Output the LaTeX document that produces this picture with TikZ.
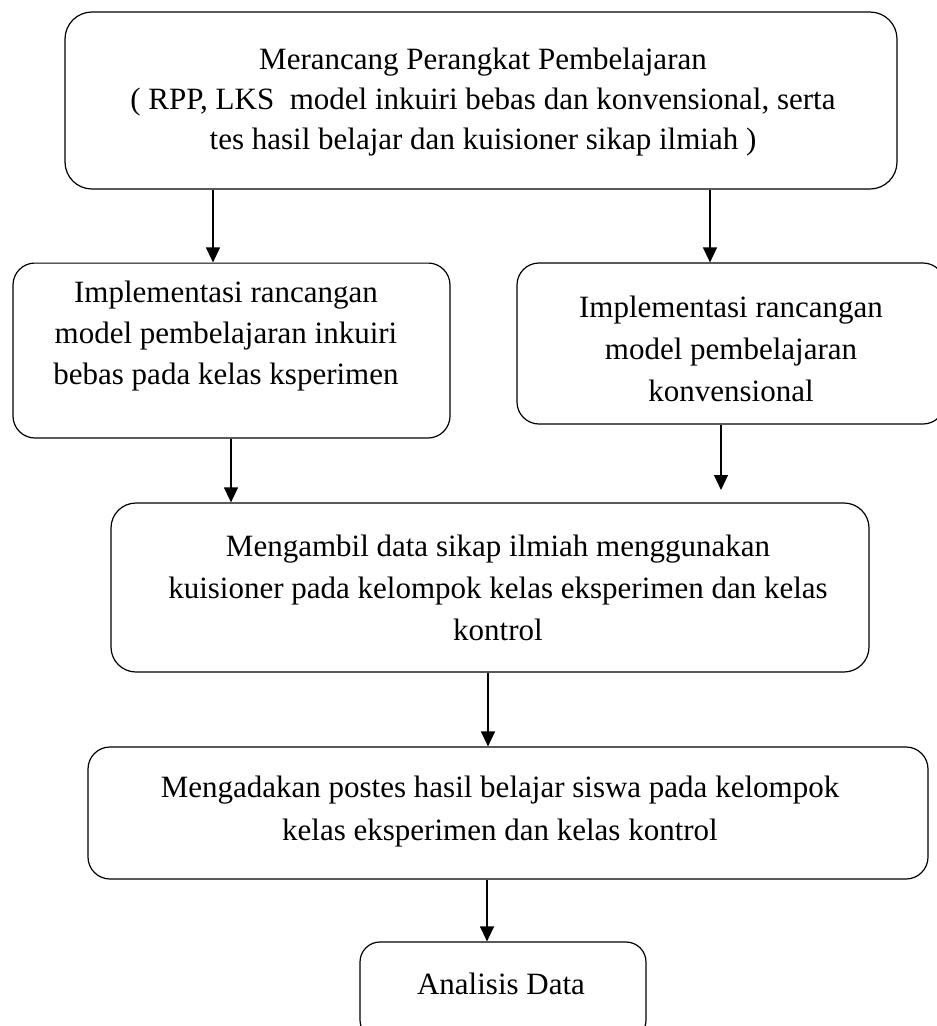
\documentclass[tikz,border=0pt]{standalone}
\usepackage{fontspec}
\setmainfont{Liberation Serif}
\usetikzlibrary{arrows.meta}
\begin{document}
\begin{tikzpicture}[x=1pt,y=-1pt,
  box/.style={draw=black, line width=1.2pt, rounded corners=22pt, inner sep=0pt},
  txt/.style={align=center, inner sep=0pt, anchor=north},
  arr/.style={line width=1.2pt, -{Triangle[width=14pt,length=15pt]}}]
\useasboundingbox (0,0) rectangle (937,1026);
% boxes
\node[box, rounded corners=27pt, minimum width=832pt, minimum height=177pt] (b1) at (481,100.5) {};
\node[box, minimum width=437pt, minimum height=175pt] (b2) at (231.5,350.5) {};
\node[box, minimum width=428pt, minimum height=161pt] (b3) at (731,343.5) {};
\node[box, rounded corners=25pt, minimum width=758pt, minimum height=169pt] (b4) at (490,587.5) {};
\node[box, minimum width=840pt, minimum height=132pt] (b5) at (508,813) {};
\node[box, rounded corners=20pt, minimum width=286pt, minimum height=98pt] (b6) at (503,991) {};
% texts
\node[txt, font=\fontsize{31}{40}\selectfont] (t1) at (483,47.5)
  {Merancang Perangkat Pembelajaran\\( RPP, LKS\ \ model inkuiri bebas dan konvensional, serta\\tes hasil belajar dan kuisioner sikap ilmiah )};
\node[txt, font=\fontsize{31}{41}\selectfont] (t2) at (226,280.5)
  {Implementasi rancangan\\model pembelajaran inkuiri\\bebas pada kelas ksperimen};
\node[txt, font=\fontsize{31}{42}\selectfont] (t3) at (731,296)
  {Implementasi rancangan\\model pembelajaran\\konvensional};
\node[txt, font=\fontsize{31}{42}\selectfont] (t4) at (498,535)
  {Mengambil data sikap ilmiah menggunakan\\kuisioner pada kelompok kelas eksperimen dan kelas\\kontrol};
\node[txt, font=\fontsize{31}{43}\selectfont] (t5) at (500,775.5)
  {Mengadakan postes hasil belajar siswa pada kelompok\\kelas eksperimen dan kelas kontrol};
\node[txt, font=\fontsize{31}{40}\selectfont] (t6) at (501,973) {Analisis Data};
% faint top edge of the left box
\draw[white, line width=2pt] ([xshift=22pt]b2.north west) -- ([xshift=-22pt]b2.north east);
\draw[black!35, line width=0.7pt] ([xshift=22pt]b2.north west) -- ([xshift=-22pt]b2.north east);
% connectors
\coordinate (e3) at (721,490);
\draw[arr] (213,0 |- b1.south) -- (213,0 |- b2.north);
\draw[arr] (710,0 |- b1.south) -- (710,0 |- b3.north);
\draw[arr] (231,0 |- b2.south) -- (231,0 |- b4.north);
\draw[arr] (721,0 |- b3.south) -- (e3);
\draw[arr] (488,0 |- b4.south) -- (488,0 |- b5.north);
\draw[arr] (487,0 |- b5.south) -- (487,0 |- b6.north);
\end{tikzpicture}
\end{document}
